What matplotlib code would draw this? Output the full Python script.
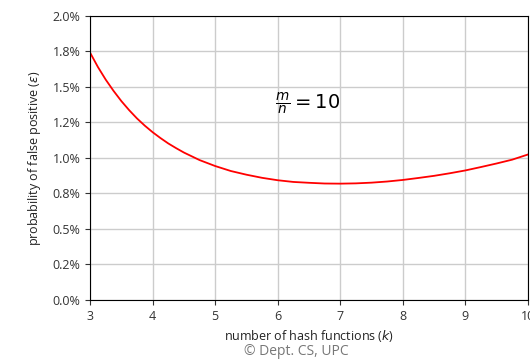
import matplotlib.pyplot as plt
from matplotlib.ticker import PercentFormatter

# values (m/n = 10)
k_vals = [3.0, 3.125, 3.25, 3.375, 3.5, 3.625, 3.75, 3.875, 4.0, 4.125, 4.25,
          4.375, 4.5, 4.75, 5.0, 5.25, 5.5, 5.75,
          6.0, 6.25, 6.5, 6.75, 7.0, 7.25, 7.5, 7.75, 8.0, 8.25, 8.5, 8.75,
          9.0, 9.25, 9.5, 9.75, 10.0]
eps_vals = [0.01741, 0.01640, 0.01551, 0.01472, 0.01400, 0.01336, 0.01278,
            0.01227, 0.01181, 0.01140, 0.01102, 0.01069, 0.01038,
            0.00985, 0.00943, 0.00908, 0.00882, 0.00860, 0.00843, 0.00831,
            0.00825, 0.00820, 0.00819, 0.00821, 0.00826, 0.00834, 0.00845,
            0.00859, 0.00874, 0.00892, 0.00912, 0.00936, 0.00961, 0.00988,
            0.01024]
y_ticks = [0.0, 0.0025, 0.005, 0.0075, 0.01, 0.0125, 0.015, 0.0175, 0.02]
x_ticks = [3, 4, 5, 6, 7, 8, 9, 10]

plt.rcParams['font.family'] = ['Open Sans', 'DejaVu Sans']

fig = plt.figure(figsize=(5.30, 3.61), dpi=100)
ax = fig.add_axes([0.170, 0.169, 0.826, 0.787])

ax.plot(k_vals, eps_vals, color='red', linewidth=1.3)

ax.set_xlim(3, 10)
ax.set_ylim(0, 0.02)
ax.set_xticks(x_ticks)
ax.set_yticks(y_ticks)
ax.yaxis.set_major_formatter(PercentFormatter(xmax=1, decimals=1))
ax.tick_params(labelsize=9, colors='#333333', labelcolor='#333333')
ax.grid(True, color='#cccccc', linewidth=1)
ax.set_axisbelow(True)

ax.set_xlabel(r'number of hash functions ($k$)', fontsize=9, color='#222222')
ax.set_ylabel(r'probability of false positive ($\varepsilon$)', fontsize=9,
              color='#222222', labelpad=7)

ax.text(5.95, 0.0138, r'$\frac{m}{n} = 10$', fontsize=14, va='center', ha='left')

fig.text(0.56, 0.005, '\u00a9 Dept. CS, UPC', fontsize=10, color='#777777',
         ha='center', va='bottom')

fig.savefig('out.png', dpi=100)
